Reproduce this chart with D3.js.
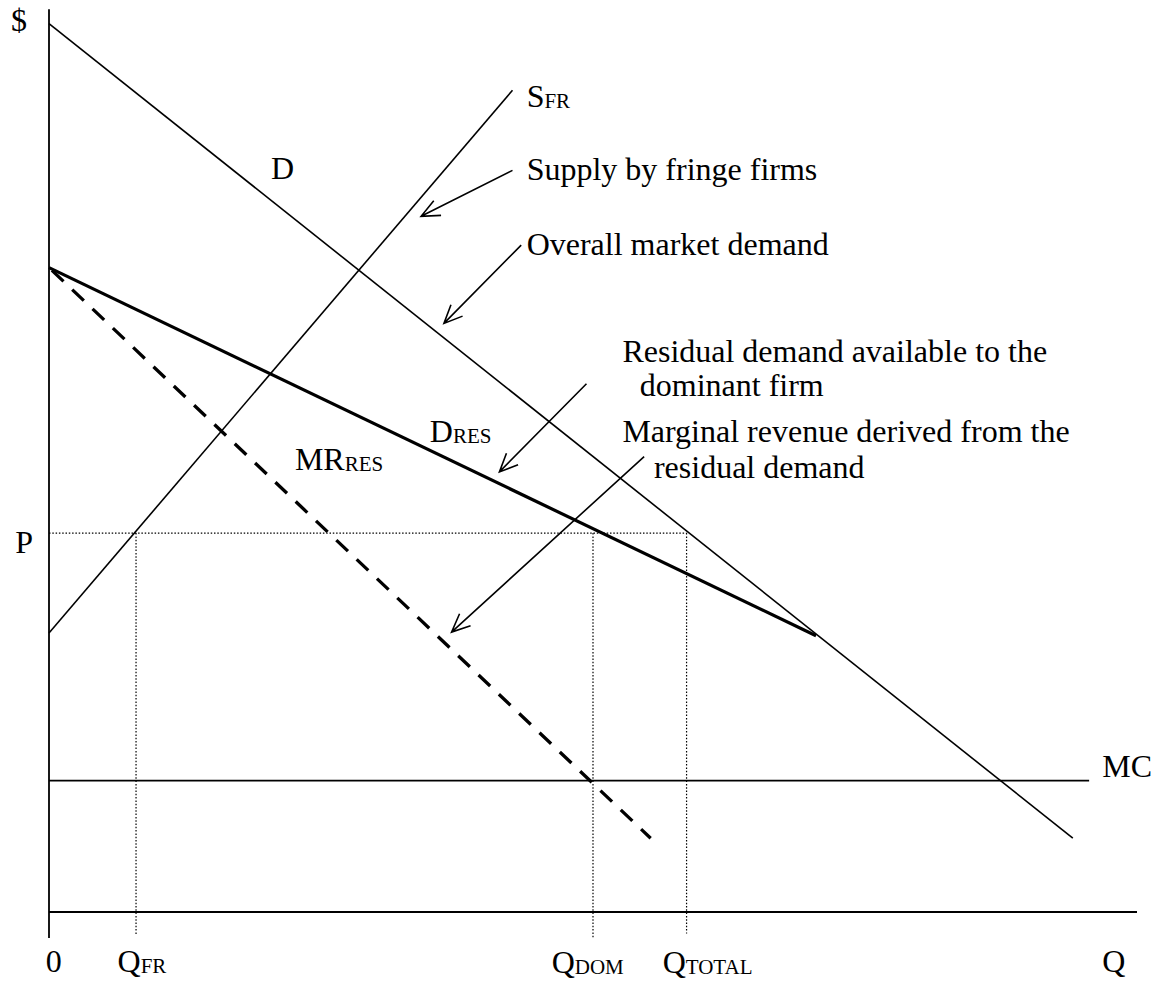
<!DOCTYPE html>
<html>
<head>
<meta charset="utf-8">
<script src="https://cdn.jsdelivr.net/npm/d3@7"></script>
<style>
  html, body { margin: 0; padding: 0; background: #fff; }
  text { font-family: "Liberation Serif", "Times New Roman", serif; fill: #000; }
</style>
</head>
<body>
<svg id="chart" width="1161" height="983"></svg>
<script>
// ---- Data (economic units: quantity q, price p) ----
const demandLine = [[0, 98.7], [94.1, 8.2]];          // D: overall market demand
const supplyFringe = [[0, 31.0], [42.6, 91.3]];       // S_FR
const residualDemand = [[0, 71.6], [70.5, 30.7]];     // D_RES
const marginalRevenue = [[0, 71.6], [55.3, 8.2]];     // MR_RES
const mcLevel = 14.6;
const mcEnd = 95.6;
const priceP = 42.1;
const qFR = 8.0, qDOM = 50.0, qTOTAL = 58.6;
const dottedBottom = -2.6;
const axisYRange = [-2.9, 100.3];
const axisXRange = [0, 100];

// annotation arrows: [from, to]
const arrows = [
  [[42.6, 82.4], [34.2, 77.3]],
  [[43.4, 74.1], [36.3, 65.4]],
  [[49.4, 58.7], [41.4, 48.9]],
  [[54.7, 50.6], [37.0, 31.1]]
];

// labels: text, optional subscript, position
const labels = [
  {t: "$", s: "", q: -3.5, p: 97.9},
  {t: "D", s: "", q: 20.4, p: 81.4},
  {t: "S", s: "FR", q: 43.9, p: 89.4},
  {t: "Supply by fringe firms", s: "", q: 43.9, p: 81.3},
  {t: "Overall market demand", s: "", q: 43.9, p: 73.0},
  {t: "Residual demand available to the", s: "", q: 52.7, p: 61.1},
  {t: "dominant firm", s: "", q: 54.3, p: 57.3},
  {t: "D", s: "RES", q: 35.0, p: 52.2},
  {t: "MR", s: "RES", q: 22.6, p: 49.1},
  {t: "Marginal revenue derived from the", s: "", q: 52.7, p: 52.2},
  {t: "residual demand", s: "", q: 55.6, p: 48.2},
  {t: "P", s: "", q: -3.1, p: 39.9},
  {t: "MC", s: "", q: 96.8, p: 15.0},
  {t: "0", s: "", q: -0.3, p: -6.7},
  {t: "Q", s: "FR", q: 6.3, p: -6.7},
  {t: "Q", s: "DOM", q: 46.2, p: -6.8},
  {t: "Q", s: "TOTAL", q: 56.4, p: -6.8},
  {t: "Q", s: "", q: 96.8, p: -6.7}
];

// ---- Scales ----
const x = d3.scaleLinear().domain([0, 100]).range([49, 1137]);
const y = d3.scaleLinear().domain([0, 100]).range([912, 12]);

const svg = d3.select("#chart");
const line = d3.line().x(d => x(d[0])).y(d => y(d[1]));

// axes
svg.append("path").attr("d", line([[0, axisYRange[0]], [0, axisYRange[1]]]))
  .attr("stroke", "#000").attr("stroke-width", 1.8).attr("fill", "none");
svg.append("path").attr("d", line([[axisXRange[0], 0], [axisXRange[1], 0]]))
  .attr("stroke", "#000").attr("stroke-width", 1.8).attr("fill", "none");

// dotted guides
const dotted = [
  [[0, priceP], [qTOTAL, priceP]],
  [[qFR, priceP], [qFR, dottedBottom]],
  [[qDOM, priceP], [qDOM, dottedBottom - 0.2]],
  [[qTOTAL, priceP], [qTOTAL, dottedBottom + 0.2]]
];
svg.selectAll(".dot").data(dotted).enter().append("path")
  .attr("d", d => line(d)).attr("stroke", "#000").attr("stroke-width", 1.2)
  .attr("stroke-dasharray", "1.5,1.8").attr("fill", "none");

// MC
svg.append("path").attr("d", line([[0, mcLevel], [mcEnd, mcLevel]]))
  .attr("stroke", "#000").attr("stroke-width", 1.6).attr("fill", "none");

// D and S
svg.append("path").attr("d", line(demandLine))
  .attr("stroke", "#000").attr("stroke-width", 1.6).attr("fill", "none");
svg.append("path").attr("d", line(supplyFringe))
  .attr("stroke", "#000").attr("stroke-width", 1.6).attr("fill", "none");

// D_RES thick
svg.append("path").attr("d", line(residualDemand))
  .attr("stroke", "#000").attr("stroke-width", 3.2).attr("fill", "none");

// MR dashed
svg.append("path").attr("d", line(marginalRevenue))
  .attr("stroke", "#000").attr("stroke-width", 3.3)
  .attr("stroke-dasharray", "16,12").attr("stroke-dashoffset", -4).attr("fill", "none");

// arrows
svg.selectAll(".arrow").data(arrows).enter().append("path")
  .attr("d", d => {
    const x0 = x(d[0][0]), y0 = y(d[0][1]), x1 = x(d[1][0]), y1 = y(d[1][1]);
    const a = Math.atan2(y1 - y0, x1 - x0);
    const L = 20, h = 0.42;
    const ax = x1 - L * Math.cos(a - h), ay = y1 - L * Math.sin(a - h);
    const bx = x1 - L * Math.cos(a + h), by = y1 - L * Math.sin(a + h);
    return `M${x0},${y0}L${x1},${y1}M${ax},${ay}L${x1},${y1}L${bx},${by}`;
  })
  .attr("stroke", "#000").attr("stroke-width", 1.6).attr("fill", "none");

// labels
labels.forEach(l => {
  const t = svg.append("text").attr("x", x(l.q)).attr("y", y(l.p))
    .attr("font-size", 32);
  t.append("tspan").text(l.t);
  if (l.s) t.append("tspan").attr("font-size", 21).attr("dy", 1).text(l.s);
});
</script>
</body>
</html>
